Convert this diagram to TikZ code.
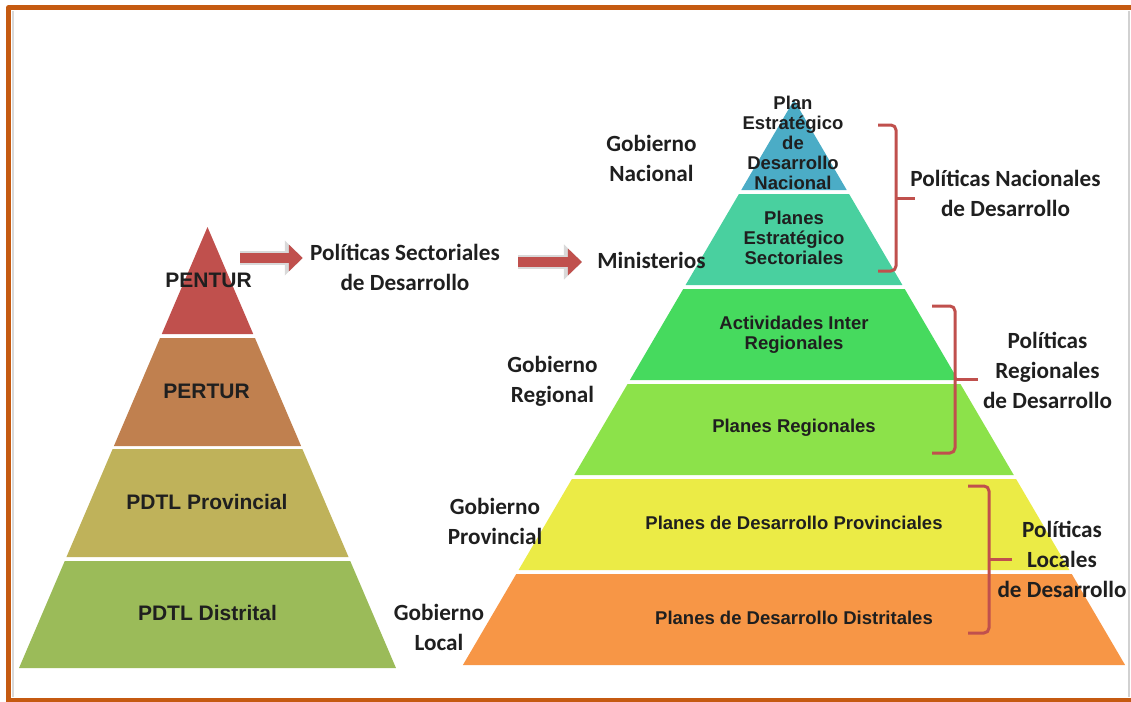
\documentclass[tikz,border=0pt]{standalone}
\usepackage{fontspec}
\setmainfont{Carlito}
\newfontfamily\arialfont{Liberation Sans}
\usepackage{xcolor}
\usepackage{tikz}
\usetikzlibrary{arrows.meta}

\definecolor{frameorange}{HTML}{C55A11}
\definecolor{bracered}{HTML}{C0504D}
\definecolor{lred}{HTML}{C0504D}
\definecolor{lbrown}{HTML}{C0804F}
\definecolor{lkhaki}{HTML}{BFB25A}
\definecolor{lgreen}{HTML}{9BBB59}
\definecolor{rblue}{HTML}{4BACC6}
\definecolor{rteal}{HTML}{49D09F}
\definecolor{rgreen}{HTML}{46DA5E}
\definecolor{rlime}{HTML}{8CE24A}
\definecolor{ryellow}{HTML}{EBEB46}
\definecolor{rorange}{HTML}{F79646}

\tikzset{
  outlbl/.style={font=\bfseries\fontsize{11.6}{15}\selectfont, align=center, text=black!88, inner sep=0pt},
  pyrlbl/.style={font=\arialfont\bfseries\fontsize{10.5}{12}\selectfont, text=black!88, inner sep=0pt},
  innerlbl/.style={font=\arialfont\bfseries\fontsize{9.25}{10}\selectfont, align=center, text=black!88, inner sep=0pt},
  bracket/.style={draw=bracered, line width=1.5pt, rounded corners=2.5pt},
  blockarrow/.style={draw=lred, line width=5pt, -{Triangle[width=13pt,length=7pt]},
    preaction={draw=black!15, line width=7pt, -{Triangle[width=17pt,length=9pt]}}},
  frameline/.style={draw=frameorange, line width=2.5pt}
}

\begin{document}
\begin{tikzpicture}[x=0.5pt,y=-0.5pt,line join=round]
  \useasboundingbox (0,0) rectangle (1131,702);

  % frame
  \draw[black!15, line width=0.8pt] (13,11) -- (13,697);
  \draw[black!18, line width=1pt] (1129,11) -- (1129,697);
  \draw[frameline] (8.5,702) -- (8.5,7.75) -- (1131,7.75);
  \draw[frameline] (6,700.5) -- (1131,700.5);

  % left pyramid
  \foreach \ya/\yb/\col in {227/334/lred, 338/446/lbrown, 449/557/lkhaki, 561/668/lgreen}
    \fill[\col] ({207.5-0.4274*(\ya-227)},\ya) -- ({207.5+0.4274*(\ya-227)},\ya)
      -- ({207.5+0.4274*(\yb-227)},\yb) -- ({207.5-0.4274*(\yb-227)},\yb) -- cycle;

  % right pyramid
  \foreach \ya/\yb/\col in {100/190/rblue, 194/285/rteal, 289/380/rgreen, 384/475/rlime, 479/570/ryellow, 574/665/rorange}
    \fill[\col] ({794-0.586*(\ya-100)},\ya) -- ({794+0.586*(\ya-100)},\ya)
      -- ({794+0.586*(\yb-100)},\yb) -- ({794-0.586*(\yb-100)},\yb) -- cycle;

  % left labels
  \node[pyrlbl] (pentur) at (208.5,280) {PENTUR};
  \node[pyrlbl] (pertur) at (206.5,391) {PERTUR};
  \node[pyrlbl] (pdtlprov) at (207,502) {PDTL Provincial};
  \node[pyrlbl] (pdtldist) at (207.5,613) {PDTL Distrital};

  \node[outlbl] (polsect) at (405,267.5) {Políticas Sectoriales\\de Desarrollo};
  \node[outlbl] (minist) at (651.5,260) {Ministerios};

  % right pyramid labels
  \node[innerlbl] (plannac) at (793,143) {Plan\\Estratégico\\de\\Desarrollo\\Nacional};
  \node[innerlbl] (planessect) at (794,238) {Planes\\Estratégico\\Sectoriales};
  \node[innerlbl] (actinter) at (794,335) {Actividades Inter\\Regionales};
  \node[innerlbl] (planesreg) at (794,428) {Planes Regionales};
  \node[innerlbl] (planesprov) at (794,523) {Planes de Desarrollo Provinciales};
  \node[innerlbl] (planesdist) at (794,618) {Planes de Desarrollo Distritales};

  \node[outlbl] (gobnac) at (651.5,158) {Gobierno\\Nacional};
  \node[outlbl] (gobreg) at (552.5,381) {Gobierno\\Regional};
  \node[outlbl] (gobprov) at (495,521) {Gobierno\\Provincial};
  \node[outlbl] (goblocal) at (439,627.5) {Gobierno\\Local};

  \node[outlbl] (polnac) at (1005.5,193) {Políticas Nacionales\\de Desarrollo};
  \node[outlbl] (polreg) at (1047.5,370) {Políticas\\Regionales\\de Desarrollo};
  \node[outlbl] (polloc) at (1062,559) {Políticas\\Locales\\de Desarrollo};

  % arrows
  \coordinate (a1) at (240,258);
  \coordinate (a2) at (518,262);
  \draw[blockarrow, shorten >=3.5pt] (a1) -- (a1 -| polsect.west);
  \draw[blockarrow, shorten >=7.5pt] (a2) -- (a2 -| minist.west);

  % brackets
  \draw[bracket] (878,125) -- (896,125) -- (896,271) -- (878,271);
  \draw[bracket] (896,198) -- (915,198);
  \draw[bracket] (932,306) -- (955,306) -- (955,453) -- (932,453);
  \draw[bracket] (955,379) -- (978,379);
  \draw[bracket] (968,486) -- (989,486) -- (989,633) -- (968,633);
  \draw[bracket] (989,559) -- (1012,559);
\end{tikzpicture}
\end{document}
